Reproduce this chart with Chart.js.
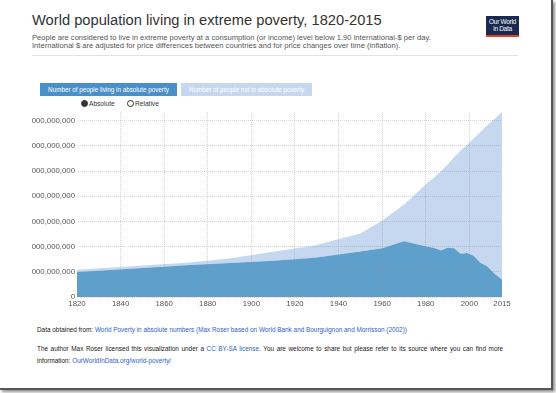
<!DOCTYPE html>
<html>
<head>
<meta charset="utf-8">
<script src="https://cdn.jsdelivr.net/npm/chart.js@4"></script>
<style>
    body { margin: 0; background: #fff; font-family: "Liberation Sans", Arial, sans-serif; }
    #page { position: absolute; left: 0; top: 0; width: 551px; height: 388px; background: #fff;
            border-right: 2px solid #555; border-bottom: 2px solid #555;
            box-shadow: 2px 2px 3px rgba(0,0,0,0.45); }
    .abs { position: absolute; white-space: nowrap; }
    #title { left: 32px; top: 12px; font-size: 14.7px; color: #333; }
    .sub { left: 32px; font-size: 7.6px; color: #555; }
    #logo { left: 486px; top: 16px; width: 33px; background: #1a2a4e;
            border-bottom: 2px solid #e8401c; color: #fff; font-size: 6.5px; line-height: 7px;
            text-align: center; padding-top: 2px; height: 17px; letter-spacing: -0.3px; }
    #rule { left: 32px; top: 55px; width: 486px; height: 1px; background: #e2e2e2; }
    .btn { top: 83px; height: 13px; line-height: 13px; font-size: 6.3px; color: #fff; text-align: center; }
    #btn1 { left: 40px; width: 137px; background: #4a90c8; }
    #btn2 { left: 181px; width: 131px; background: #c6d8ef; }
    .radio { top: 100px; font-size: 6.6px; color: #333; }
    .dot { display: inline-block; width: 5px; height: 5px; border-radius: 50%; border: 1px solid #333;
           vertical-align: -1px; margin-right: 1px; }
    #clip { left: 31px; top: 105px; width: 488px; height: 212px; overflow: hidden; }
    #wrap { position: absolute; left: -14px; top: 0; width: 500px; height: 206px; }
    .foot { left: 37px; font-size: 6.4px; color: #222; }
    .foot a { color: #2f63c6; text-decoration: none; }
</style>
</head>
<body>
<div id="page">
    <div class="abs" id="title">World population living in extreme poverty, 1820-2015</div>
    <div class="abs sub" style="top:33px">People are considered to live in extreme poverty at a consumption (or income) level below 1.90 international-$ per day.</div>
    <div class="abs sub" style="top:41px">International $ are adjusted for price differences between countries and for price changes over time (inflation).</div>
    <div class="abs" id="logo">Our World<br>in Data</div>
    <div class="abs" id="rule"></div>

    <div class="abs btn" id="btn1">Number of people living in absolute poverty</div>
    <div class="abs btn" id="btn2">Number of people not in absolute poverty</div>
    <div class="abs radio" style="left:81px"><span class="dot" style="background:#333"></span>Absolute</div>
    <div class="abs radio" style="left:127px"><span class="dot"></span>Relative</div>

    <div class="abs" id="clip"><div id="wrap"><canvas id="povertyChart"></canvas></div></div>

    <div class="abs foot" style="top:326px">Data obtained from: <a>World Poverty in absolute numbers (Max Roser based on World Bank and Bourguignon and Morrisson (2002))</a></div>
    <div class="abs foot" style="top:345px; word-spacing:0.8px">The author Max Roser licensed this visualization under a <a>CC BY-SA license</a>. You are welcome to share but please refer to its source where you can find more</div>
    <div class="abs foot" style="top:357px">information: <a>OurWorldInData.org/world-poverty/</a></div>
</div>

<script>
// Years with data points
const years = [1820, 1850, 1870, 1890, 1910, 1929, 1950, 1960, 1970, 1981, 1984, 1987, 1990, 1993, 1996, 1999, 2002, 2005, 2008, 2010, 2012, 2015];

// People living in absolute poverty
const inPoverty = [0.99e9, 1.15e9, 1.26e9, 1.35e9, 1.44e9, 1.56e9, 1.81e9, 1.94e9, 2.21e9, 2.00e9, 1.95e9, 1.85e9, 1.96e9, 1.94e9, 1.72e9, 1.75e9, 1.64e9, 1.36e9, 1.23e9, 1.06e9, 0.89e9, 0.70e9];

// World population (top of the light area)
const worldPopulation = [1.08e9, 1.25e9, 1.36e9, 1.53e9, 1.80e9, 2.05e9, 2.52e9, 3.04e9, 3.67e9, 4.55e9, 4.76e9, 5.00e9, 5.25e9, 5.55e9, 5.82e9, 6.05e9, 6.30e9, 6.55e9, 6.80e9, 6.95e9, 7.10e9, 7.35e9];

// Axis ticks
const xTicks = [1820, 1840, 1860, 1880, 1900, 1920, 1940, 1960, 1980, 2000, 2015];
const yTicks = [0, 1e9, 2e9, 3e9, 4e9, 5e9, 6e9, 7e9];

const darkBlue = '#5f9fcb';
const lightBlue = '#c6d8ef';
const tickFont = { family: '"Liberation Sans", Arial, sans-serif', size: 7.8 };

const ctx = document.getElementById('povertyChart').getContext('2d');

new Chart(ctx, {
    type: 'line',
    data: {
        datasets: [
            {
                label: 'Number of people living in absolute poverty',
                data: years.map((y, i) => ({ x: y, y: inPoverty[i] })),
                backgroundColor: darkBlue,
                borderWidth: 0,
                pointRadius: 0,
                fill: 'origin'
            },
            {
                label: 'Number of people not in absolute poverty',
                data: years.map((y, i) => ({ x: y, y: worldPopulation[i] })),
                backgroundColor: lightBlue,
                borderWidth: 0,
                pointRadius: 0,
                fill: '-1'
            }
        ]
    },
    options: {
        responsive: true,
        maintainAspectRatio: false,
        animation: false,
        layout: { padding: { top: 7, right: 15, left: 0, bottom: 0 } },
        plugins: {
            legend: { display: false },
            tooltip: { enabled: false }
        },
        scales: {
            x: {
                type: 'linear',
                min: 1820,
                max: 2015,
                afterBuildTicks: scale => { scale.ticks = xTicks.map(v => ({ value: v })); },
                afterFit: scale => { scale.height = 14; },
                ticks: {
                    color: '#555',
                    font: tickFont,
                    padding: 2,
                    maxRotation: 0,
                    autoSkip: false,
                    callback: v => String(v)
                },
                grid: {
                    color: ctx => (ctx.tick && (ctx.tick.value === 2015 || ctx.tick.value === 1820)) ? 'rgba(0,0,0,0)' : 'rgba(140,140,140,0.35)',
                    drawTicks: false,
                    z: 1
                },
                border: { display: false, dash: [1, 1] }
            },
            y: {
                min: 0,
                max: 7.35e9,
                afterBuildTicks: scale => { scale.ticks = yTicks.map(v => ({ value: v })); },
                afterFit: scale => { scale.width = 60; },
                ticks: {
                    color: '#555',
                    font: tickFont,
                    padding: 2,
                    callback: v => v.toLocaleString('en-US')
                },
                grid: {
                    color: 'rgba(140,140,140,0.35)',
                    drawTicks: false,
                    z: 1
                },
                border: { display: true, color: '#8a8a8a', width: 1, dash: [1, 1] }
            }
        }
    }
});
</script>
</body>
</html>
